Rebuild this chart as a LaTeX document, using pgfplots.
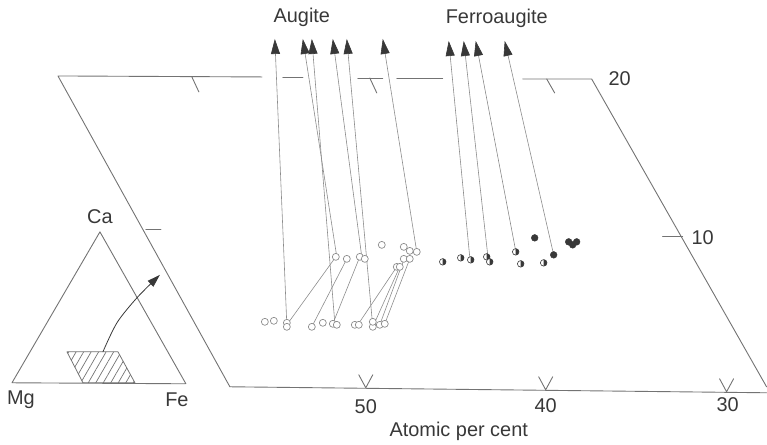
\documentclass[border=0pt]{standalone}
\usepackage{pgfplots}
\pgfplotsset{compat=1.18}
\usepackage{fontspec}
\setmainfont{Liberation Sans}
\usetikzlibrary{arrows.meta,patterns.meta,plotmarks}

\definecolor{ink}{gray}{0.22}
\definecolor{frame}{gray}{0.45}
\definecolor{tie}{gray}{0.55}

\tikzset{
    lbl/.style={font=\fontsize{20}{24}\selectfont, text=ink, inner sep=0pt},
    arr/.style={tie, line width=0.6pt, -{Triangle[length=15bp,width=9bp,color=ink,fill=ink]}},
}

\begin{document}
\begin{tikzpicture}
\begin{axis}[
    width=767bp, height=445bp, scale only axis,
    xmin=0, xmax=767, ymin=0, ymax=445, y dir=reverse,
    axis lines=none, clip=false,
    every axis plot/.append style={line cap=round, line join=round},
]
% page extent
\addplot[draw=none] coordinates {(0,0) (767,445)};

% quadrilateral (top line broken where the arrows cross it)
\addplot[frame, line width=0.9pt] coordinates {(262,77) (58,76) (230,387) (767,393)};
\addplot[frame, line width=0.9pt] coordinates {(283,77) (303,77)};
\addplot[frame, line width=0.9pt] coordinates {(358,78) (383,78)};
\addplot[frame, line width=0.9pt] coordinates {(397,78) (443,78)};
\addplot[frame, line width=0.9pt] coordinates {(523,79) (592,79) (767,387)};

% ticks
\addplot[frame, line width=0.9pt] coordinates {(192,77) (199,92)};
\addplot[frame, line width=0.9pt] coordinates {(370,78) (377,93)};
\addplot[frame, line width=0.9pt] coordinates {(547,79) (555,93)};
\addplot[frame, line width=0.9pt] coordinates {(146,230) (161,230)};
\addplot[frame, line width=0.9pt] coordinates {(663,237) (683,237)};
\addplot[frame, line width=0.9pt] coordinates {(359,375) (366,388) (373,375)};
\addplot[frame, line width=0.9pt] coordinates {(539,377) (546,390) (553,377)};
\addplot[frame, line width=0.9pt] coordinates {(720,379) (727,392) (734,379)};

% tie lines
\addplot[tie, line width=0.6pt] coordinates {(287,325) (336,257)};
\addplot[tie, line width=0.6pt] coordinates {(312,327) (347,259)};
\addplot[tie, line width=0.6pt] coordinates {(333,324) (360,257)};
\addplot[tie, line width=0.6pt] coordinates {(358,325) (397,267)};
\addplot[tie, line width=0.6pt] coordinates {(373,327) (400,267)};
\addplot[tie, line width=0.6pt] coordinates {(380,325) (404,260)};
\addplot[tie, line width=0.6pt] coordinates {(385,324) (410,259)};

% arrows to the projected compositions
\addplot[arr] coordinates {(287,325) (275,39)};
\addplot[arr] coordinates {(337,257) (303,39)};
\addplot[arr] coordinates {(335,323) (312,39)};
\addplot[arr] coordinates {(362,257) (333,39)};
\addplot[arr] coordinates {(373,327) (347,39)};
\addplot[arr] coordinates {(417,252) (383,39)};
\addplot[arr] coordinates {(470,257) (449,41)};
\addplot[arr] coordinates {(488,255) (464,41)};
\addplot[arr] coordinates {(516,251) (476,41)};
\addplot[arr] coordinates {(554,255) (505,41)};

% open circles (augite)
\addplot[only marks, mark=*, mark size=3.5, mark options={draw=tie, fill=white, line width=0.7pt}]
coordinates {
(265,322) (274,321) (287,323) (287,327) (312,327) (323,323) (333,324) (337,325)
(355,325) (359,325) (373,327) (373,322) (380,325) (385,324)
(336,257) (347,259) (360,257) (365,259) (382,245) (404,247) (410,251) (417,252)
(404,259) (410,259) (397,267) (400,267)
};

% half-filled circles (ferroaugite)
\addplot[only marks, mark=halfcircle*, mark size=3.3,
  mark options={draw=ink, fill=white, mark color=ink, rotate=90, line width=0.6pt}]
coordinates {
(443,262) (461,258) (471,260) (487,257) (490,262) (516,252) (521,264) (544,263)
};

% solid circles
\addplot[only marks, mark=*, mark size=3.4, mark options={draw=ink, fill=ink}]
coordinates {(535,238) (554,255) (569,242) (573,245) (577,242)};

% inset triangle Ca-Mg-Fe
\addplot[frame, line width=0.9pt] coordinates {(185,384) (12,383) (100,232) (186,384)};
\addplot[frame, line width=0.8pt, pattern={Lines[angle=60,distance=6.5bp,line width=0.7pt]}, pattern color=frame]
coordinates {(67,352) (118,352) (135,383) (83,383) (67,352)};
\addplot[ink, line width=0.8pt, smooth, -{Triangle[length=13bp,width=8bp]}]
coordinates {(103,352) (117,323) (137,298) (160,275)};

% labels
\node[lbl] at (axis cs:302,17) {Augite};
\node[lbl] at (axis cs:497,18) {Ferroaugite};
\node[lbl] at (axis cs:620,79) {20};
\node[lbl] at (axis cs:703,238) {10};
\node[lbl] at (axis cs:366,407) {50};
\node[lbl] at (axis cs:546,406) {40};
\node[lbl] at (axis cs:728,405) {30};
\node[lbl] at (axis cs:459,432) {Atomic per cent};
\node[lbl] at (axis cs:100,217) {Ca};
\node[lbl] at (axis cs:21,400) {Mg};
\node[lbl] at (axis cs:177,400) {Fe};
\end{axis}
\end{tikzpicture}
\end{document}
